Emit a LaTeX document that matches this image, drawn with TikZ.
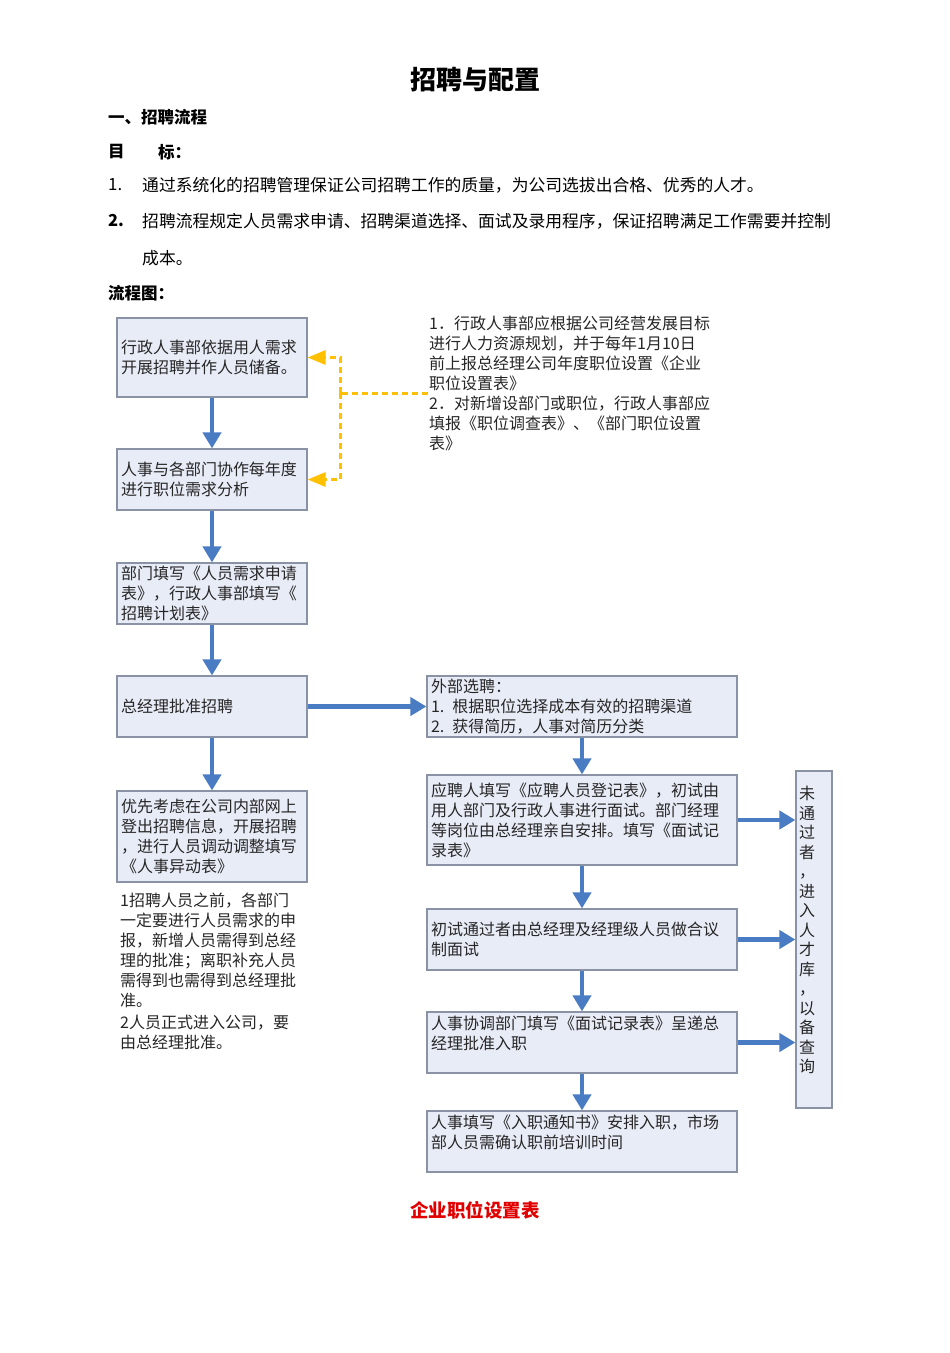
\documentclass[tikz,border=0pt]{standalone}
\usepackage{fontspec}
\setmainfont{Noto Sans CJK SC}
\usetikzlibrary{arrows.meta}
\definecolor{boxfill}{HTML}{E8ECF7}
\definecolor{boxline}{HTML}{8A93A5}
\definecolor{flowblue}{HTML}{4A7CC4}
\definecolor{dashyellow}{HTML}{FFC000}
\definecolor{txt}{HTML}{262626}
\definecolor{footred}{HTML}{E00000}
\begin{document}
\begin{tikzpicture}[x=1pt,y=-1pt,
  flowbox/.style={draw=boxline, fill=boxfill, line width=1.2pt, inner xsep=4pt, inner ysep=1pt, align=left, text=txt, font=\fontsize{16}{20}\selectfont},
  lbox/.style={flowbox, text width=182pt},
  rbox/.style={flowbox, text width=302pt},
  barrow/.style={draw=flowblue, line width=4.5pt, -{Triangle[width=18pt,length=16pt]}},
  yarrow/.style={draw=dashyellow, line width=3pt, dash pattern=on 6pt off 4pt, -{Triangle[width=14pt,length=18pt,fill=dashyellow]}},
  plain/.style={inner sep=0pt, anchor=west, text=black, font=\fontsize{16.8}{20}\selectfont},
  head/.style={plain, font=\fontsize{16.5}{20}\selectfont\bfseries},
  note/.style={inner sep=0pt, anchor=north west, align=left, text=txt, font=\fontsize{16}{20}\selectfont}
]
\useasboundingbox[fill=white] (0,0) rectangle (950,1353);

% header texts
\node[inner sep=0pt, font=\fontsize{26}{30}\selectfont\bfseries] (title) at (475,80) {招聘与配置};
\node[head] (h1) at (108,117) {一、招聘流程};
\node[head] (h2a) at (108,152) {目};
\node[head] (h2b) at (158,152) {标：};
\node[plain] (n1) at (108,185) {1.};
\node[plain] (t1) at (142,185) {通过系统化的招聘管理保证公司招聘工作的质量，为公司选拔出合格、优秀的人才。};
\node[head] (n2) at (108,221) {2.};
\node[plain] (t2) at (142,221) {招聘流程规定人员需求申请、招聘渠道选择、面试及录用程序，保证招聘满足工作需要并控制};
\node[plain] (t2b) at (142,258) {成本。};
\node[head] (h3) at (108,293) {流程图：};

% left column
\node[lbox, minimum height=79pt] (b1) at (212,357.5) {行政人事部依据用人需求\\开展招聘并作人员储备。};
\node[lbox, minimum height=61pt] (b2) at (212,479.5) {人事与各部门协作每年度\\进行职位需求分析};
\node[lbox, minimum height=61pt] (b3) at (212,593.5) {部门填写《人员需求申请\\表》，行政人事部填写《\\招聘计划表》};
\node[lbox, minimum height=61pt] (b4) at (212,706.5) {总经理批准招聘};
\node[lbox, minimum height=91pt] (b5) at (212,836.5) {优先考虑在公司内部网上\\登出招聘信息，开展招聘\\，进行人员调动调整填写\\《人事异动表》};

\node[note] (nb) at (120,893) {1招聘人员之前，各部门\\一定要进行人员需求的申\\报，新增人员需得到总经\\理的批准；离职补充人员\\需得到也需得到总经理批\\准。\\[2pt]2人员正式进入公司，要\\由总经理批准。};

% top note
\node[note] (nt) at (429,316) {1．行政人事部应根据公司经营发展目标\\进行人力资源规划，并于每年1月10日\\前上报总经理公司年度职位设置《企业\\职位设置表》\\2．对新增设部门或职位，行政人事部应\\填报《职位调查表》、《部门职位设置\\表》};

% right column
\node[rbox, minimum height=61pt] (r1) at (582,706.5) {外部选聘：\\1. 根据职位选择成本有效的招聘渠道\\2. 获得简历，人事对简历分类};
\node[rbox, minimum height=90pt] (r2) at (582,820) {应聘人填写《应聘人员登记表》，初试由\\用人部门及行政人事进行面试。部门经理\\等岗位由总经理亲自安排。填写《面试记\\录表》};
\node[rbox, minimum height=61pt] (r3) at (582,939.5) {初试通过者由总经理及经理级人员做合议\\制面试};
\node[rbox, minimum height=61pt] (r4) at (582,1042.5) {人事协调部门填写《面试记录表》呈递总\\经理批准入职\\\mbox{}};
\node[rbox, minimum height=61pt] (r5) at (582,1141.5) {人事填写《入职通知书》安排入职，市场\\部人员需确认职前培训时间\\\mbox{}};

\node[draw=boxline, fill=boxfill, line width=1.2pt, minimum height=337pt, inner xsep=3pt, inner ysep=0pt, text width=30pt, align=left, text=txt, font=\fontsize{16}{19.5}\selectfont] (t) at (814,939.5) {未\\通\\过\\者\\，\\进\\入\\人\\才\\库\\，\\以\\备\\查\\询\\\mbox{}};

% footer
\node[inner sep=0pt, text=footred, font=\fontsize{18.5}{22}\selectfont\bfseries] (foot) at (475,1210) {企业职位设置表};

% blue arrows
\draw[barrow] (b1.south) -- (b2.north);
\draw[barrow] (b2.south) -- (b3.north);
\draw[barrow] (b3.south) -- (b4.north);
\draw[barrow] (b4.south) -- (b5.north);
\draw[barrow] (b4.east) -- (r1.west);
\draw[barrow] (r1.south) -- (r2.north);
\draw[barrow] (r2.south) -- (r3.north);
\draw[barrow] (r3.south) -- (r4.north);
\draw[barrow] (r4.south) -- (r5.north);
\draw[barrow] (r2.east) -- (r2.east -| t.west);
\draw[barrow] (r3.east) -- (r3.east -| t.west);
\draw[barrow] (r4.east) -- (r4.east -| t.west);

% yellow dashed connectors
\coordinate (ys) at (428,393);
\coordinate (yj) at (340,393);
\draw[draw=dashyellow, line width=3pt, dash pattern=on 6pt off 4pt] (ys) -- (yj);
\draw[yarrow] (yj) |- (b1.east);
\draw[yarrow] (yj) |- (b2.east);
\end{tikzpicture}
\end{document}
